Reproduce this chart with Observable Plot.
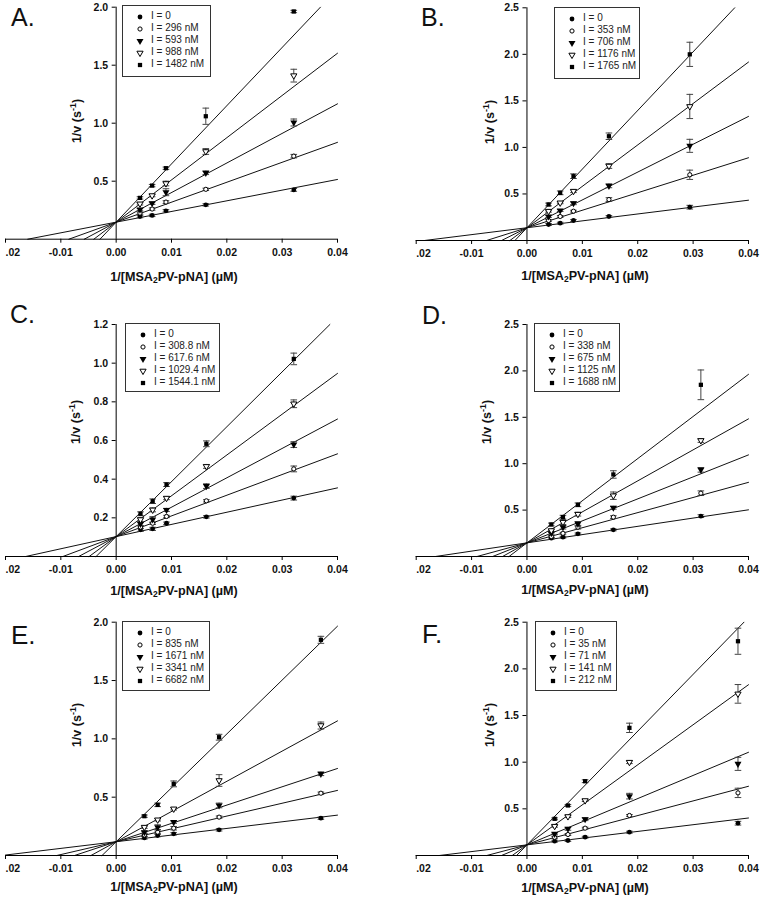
<!DOCTYPE html>
<html><head><meta charset="utf-8">
<script src="https://cdn.jsdelivr.net/npm/d3@7"></script>
<script src="https://cdn.jsdelivr.net/npm/@observablehq/plot@0.6"></script>
<style>
body{margin:0;background:#fff;}
#root{position:relative;width:761px;height:900px;overflow:hidden;background:#fff;font-family:"Liberation Sans",Arial,sans-serif;color:#111;}
.pw{position:absolute;overflow:hidden;}
.letter{position:absolute;line-height:1;font-size:25px;}
.xt{position:absolute;font-size:12.6px;font-weight:bold;transform:translate(-50%,-50%);white-space:nowrap;line-height:1;}
.xt sub{font-size:8.5px;vertical-align:-2px;line-height:0;}
.yt{position:absolute;font-size:12.5px;font-weight:bold;transform:translate(-50%,-50%) rotate(-90deg);white-space:nowrap;line-height:1;}
.yt sup{font-size:9px;vertical-align:5px;line-height:0;}
.legend{position:absolute;border:1px solid #333;background:#fff;box-sizing:border-box;}
.legend .row{position:absolute;left:0;font-size:10px;line-height:1;white-space:nowrap;color:#222;}
.legend svg{position:absolute;overflow:visible;}
</style>
</head><body>
<div id="root"></div>
<script>
// ---------- data ----------
const panelLetters = ["A.", "B.", "C.", "D.", "E.", "F."];
const xTicks = [-0.02, -0.01, 0, 0.01, 0.02, 0.03, 0.04];

// Panel A
const labelsA = ["I = 0", "I = 296 nM", "I = 593 nM", "I = 988 nM", "I = 1482 nM"];
const xA = [0.0043, 0.0065, 0.0090, 0.0162, 0.0321];
const yA = [
  [0.195, 0.205, 0.245, 0.296, 0.425],
  [0.225, 0.260, 0.320, 0.430, 0.716],
  [0.255, 0.310, 0.405, 0.572, 1.006],
  [0.305, 0.376, 0.480, 0.756, 1.410],
  [0.356, 0.462, 0.612, 1.060, 1.963]
];
const eA = [
  [0.01, 0.01, 0.01, 0.01, 0.012],
  [0.01, 0.01, 0.012, 0.01, 0.015],
  [0.01, 0.01, 0.03, 0.015, 0.03],
  [0.01, 0.01, 0.02, 0.025, 0.055],
  [0.01, 0.01, 0.01, 0.07, 0.01]
];
const interceptA = 0.147;
const slopesA = [9.2, 17.2, 25.5, 36.4, 50.2];
const yTicksA = [0.5, 1.0, 1.5, 2.0];

// Panel B
const labelsB = ["I = 0", "I = 353 nM", "I = 706 nM", "I = 1176 nM", "I = 1765 nM"];
const xB = [0.0039, 0.0060, 0.0084, 0.0148, 0.0294];
const yB = [
  [0.172, 0.186, 0.215, 0.258, 0.358],
  [0.215, 0.258, 0.315, 0.440, 0.706],
  [0.258, 0.322, 0.400, 0.587, 1.017],
  [0.315, 0.405, 0.530, 0.800, 1.440],
  [0.387, 0.512, 0.691, 1.120, 2.000]
];
const eB = [
  [0.01, 0.01, 0.01, 0.01, 0.02],
  [0.01, 0.01, 0.01, 0.02, 0.05],
  [0.01, 0.01, 0.015, 0.02, 0.07],
  [0.01, 0.01, 0.015, 0.025, 0.13],
  [0.015, 0.02, 0.025, 0.035, 0.13]
];
const interceptB = 0.137;
const slopesB = [7.4, 18.8, 29.9, 44.5, 63.0];
const yTicksB = [0.5, 1.0, 1.5, 2.0, 2.5];

// Panel C
const labelsC = ["I = 0", "I = 308.8 nM", "I = 617.6 nM", "I = 1029.4 nM", "I = 1544.1 nM"];
const xC = [0.0044, 0.0066, 0.0091, 0.0163, 0.0321];
const yC = [
  [0.138, 0.143, 0.172, 0.205, 0.302],
  [0.152, 0.172, 0.207, 0.288, 0.453],
  [0.168, 0.191, 0.241, 0.364, 0.579],
  [0.191, 0.241, 0.302, 0.466, 0.790],
  [0.221, 0.286, 0.372, 0.583, 1.022]
];
const eC = [
  [0.008, 0.008, 0.006, 0.006, 0.01],
  [0.008, 0.006, 0.006, 0.006, 0.015],
  [0.01, 0.015, 0.008, 0.012, 0.015],
  [0.01, 0.01, 0.008, 0.01, 0.02],
  [0.01, 0.012, 0.01, 0.015, 0.03]
];
const interceptC = 0.103;
const slopesC = [6.3, 10.7, 15.2, 21.1, 28.4];
const yTicksC = [0.2, 0.4, 0.6, 0.8, 1.0, 1.2];

// Panel D
const labelsD = ["I = 0", "I = 338 nM", "I = 675 nM", "I = 1125 nM", "I = 1688 nM"];
const xD = [0.0044, 0.0065, 0.0092, 0.0156, 0.0314];
const yD = [
  [0.198, 0.208, 0.244, 0.287, 0.435],
  [0.215, 0.250, 0.316, 0.424, 0.682],
  [0.250, 0.316, 0.352, 0.525, 0.934],
  [0.280, 0.370, 0.456, 0.655, 1.250],
  [0.345, 0.424, 0.557, 0.884, 1.850]
];
const eD = [
  [0.01, 0.01, 0.01, 0.01, 0.015],
  [0.01, 0.01, 0.02, 0.015, 0.025],
  [0.01, 0.02, 0.025, 0.015, 0.025],
  [0.01, 0.025, 0.02, 0.04, 0.02],
  [0.015, 0.02, 0.02, 0.04, 0.16]
];
const interceptD = 0.147;
const slopesD = [8.9, 16.3, 23.7, 33.4, 45.4];
const yTicksD = [0.5, 1.0, 1.5, 2.0, 2.5];

// Panel E
const labelsE = ["I = 0", "I = 835 nM", "I = 1671 nM", "I = 3341 nM", "I = 6682 nM"];
const xE = [0.0051, 0.0075, 0.0104, 0.0186, 0.0370];
const yE = [
  [0.151, 0.171, 0.186, 0.220, 0.320],
  [0.175, 0.200, 0.234, 0.329, 0.534],
  [0.200, 0.243, 0.286, 0.429, 0.700],
  [0.243, 0.306, 0.400, 0.643, 1.114],
  [0.337, 0.434, 0.614, 1.014, 1.849]
];
const eE = [
  [0.01, 0.01, 0.01, 0.01, 0.01],
  [0.01, 0.01, 0.015, 0.01, 0.01],
  [0.01, 0.02, 0.01, 0.02, 0.015],
  [0.01, 0.01, 0.01, 0.05, 0.03],
  [0.01, 0.015, 0.025, 0.025, 0.03]
];
const interceptE = 0.118;
const slopesE = [5.7, 11.0, 15.7, 25.9, 46.2];
const yTicksE = [0.5, 1.0, 1.5, 2.0];

// Panel F
const labelsF = ["I = 0", "I = 35 nM", "I = 71 nM", "I = 141 nM", "I = 212 nM"];
const xF = [0.0050, 0.0074, 0.0105, 0.0185, 0.0381];
const yF = [
  [0.154, 0.161, 0.196, 0.250, 0.346],
  [0.195, 0.225, 0.293, 0.429, 0.671],
  [0.232, 0.286, 0.389, 0.636, 0.982],
  [0.314, 0.418, 0.589, 1.000, 1.732],
  [0.393, 0.536, 0.796, 1.368, 2.296]
];
const eF = [
  [0.01, 0.01, 0.01, 0.01, 0.02],
  [0.01, 0.01, 0.01, 0.01, 0.05],
  [0.01, 0.015, 0.015, 0.03, 0.07],
  [0.01, 0.01, 0.01, 0.015, 0.1],
  [0.01, 0.01, 0.015, 0.05, 0.14]
];
const interceptF = 0.114;
const slopesF = [7.2, 15.7, 24.8, 42.9, 60.9];
const yTicksF = [0.5, 1.0, 1.5, 2.0, 2.5];

// ---------- styles ----------
const triDown = {
  draw(ctx, size) {
    const h = Math.sqrt(size / (3 * Math.sqrt(3)));
    ctx.moveTo(0, 2 * h);
    ctx.lineTo(-Math.sqrt(3) * h, -h);
    ctx.lineTo(Math.sqrt(3) * h, -h);
    ctx.closePath();
  }
};
const capSymbol = {
  draw(ctx, size) {
    const w = Math.sqrt(size / Math.PI);
    ctx.moveTo(-w, 0);
    ctx.lineTo(w, 0);
  }
};
const seriesStyle = [
  {symbol: d3.symbolCircle, fill: "#000", stroke: "none", r: 2.4},
  {symbol: d3.symbolCircle, fill: "#fff", stroke: "#000", r: 2.1},
  {symbol: triDown, fill: "#000", stroke: "none", r: 2.6},
  {symbol: triDown, fill: "#fff", stroke: "#000", r: 2.3},
  {symbol: d3.symbolSquare, fill: "#000", stroke: "none", r: 2.4}
];
const FONT = '"Liberation Sans", Arial, sans-serif';
// the leftmost tick label appears cropped to ".02" in the reference
const tickText = d => d.toFixed(2);
const croppedText = d => d.toFixed(2).replace("-0", "");

const panels = [
  {xs: xA, ys: yA, es: eA, labels: labelsA, b: interceptA, slopes: slopesA, yTicks: yTicksA, ymax: 2.0,
   box: {left: 0, top: 0, width: 380, height: 300, mt: 6.7, mb: 61.3, ml: 5, mr: 43},
   letter: {left: 11, top: 5, size: 25}, legend: {left: 122, top: 5, width: 89, height: 72},
   xt: {x: 174, y: 277}, yt: {x: 77, y: 121}},
  {xs: xB, ys: yB, es: eB, labels: labelsB, b: interceptB, slopes: slopesB, yTicks: yTicksB, ymax: 2.5,
   box: {left: 414, top: 0, width: 347, height: 300, mt: 7.3, mb: 60, ml: 1.7, mr: 13},
   letter: {left: 421, top: 5, size: 25}, legend: {left: 554, top: 7, width: 86, height: 72},
   xt: {x: 585, y: 276}, yt: {x: 490, y: 122}},
  {xs: xC, ys: yC, es: eC, labels: labelsC, b: interceptC, slopes: slopesC, yTicks: yTicksC, ymax: 1.2,
   box: {left: 0, top: 300, width: 380, height: 300, mt: 24, mb: 44, ml: 5, mr: 43},
   letter: {left: 10, top: 302, size: 25}, legend: {left: 125, top: 323, width: 95, height: 69},
   xt: {x: 174, y: 591}, yt: {x: 76, y: 422}},
  {xs: xD, ys: yD, es: eD, labels: labelsD, b: interceptD, slopes: slopesD, yTicks: yTicksD, ymax: 2.5,
   box: {left: 414, top: 300, width: 347, height: 300, mt: 24, mb: 44, ml: 1.7, mr: 13},
   letter: {left: 422, top: 303, size: 25}, legend: {left: 534, top: 323, width: 86, height: 69},
   xt: {x: 585, y: 590}, yt: {x: 487, y: 422}},
  {xs: xE, ys: yE, es: eE, labels: labelsE, b: interceptE, slopes: slopesE, yTicks: yTicksE, ymax: 2.0,
   box: {left: 0, top: 600, width: 380, height: 300, mt: 21.7, mb: 45, ml: 5, mr: 43},
   letter: {left: 11, top: 622, size: 26}, legend: {left: 122, top: 621, width: 88, height: 70},
   xt: {x: 174, y: 887}, yt: {x: 77, y: 725}},
  {xs: xF, ys: yF, es: eF, labels: labelsF, b: interceptF, slopes: slopesF, yTicks: yTicksF, ymax: 2.5,
   box: {left: 414, top: 600, width: 347, height: 300, mt: 21.7, mb: 45, ml: 1.7, mr: 13},
   letter: {left: 422, top: 621, size: 26}, legend: {left: 535, top: 621, width: 82, height: 70},
   xt: {x: 585, y: 888}, yt: {x: 490, y: 725}}
];

const root = document.getElementById("root");

panels.forEach((p, pi) => {
  const {box} = p;
  const pts = [];
  p.ys.forEach((row, s) => row.forEach((y, i) => pts.push({s, x: p.xs[i], y, e: p.es[s][i]})));
  const lines = [];
  p.slopes.forEach((m, s) => {
    const x0 = Math.max(-0.02, -p.b / m);
    const x1 = Math.min(0.04, (p.ymax - p.b) / m);
    lines.push({s, x: x0, y: p.b + m * x0}, {s, x: x1, y: p.b + m * x1});
  });
  const innerW = box.width - box.ml - box.mr;
  const zeroOffset = (0 - xTicks[0]) / (xTicks[xTicks.length - 1] - xTicks[0]) * innerW;

  const marks = [
    Plot.line(lines, {x: "x", y: "y", z: "s", stroke: "#111", strokeWidth: 1}),
    Plot.ruleY([0], {stroke: "#000", strokeWidth: 1}),
    Plot.ruleX([0], {stroke: "#000", strokeWidth: 1}),
    Plot.axisX({ticks: xTicks, tickSize: 4, tickPadding: 5,
      tickFormat: d => (d === xTicks[0] ? "" : tickText(d)),
      fontWeight: "bold", fontSize: 10.5, label: null, stroke: "#000", fill: "#111"}),
    Plot.text([xTicks[0]], {x: d => d, frameAnchor: "bottom", text: croppedText, textAnchor: "start",
      lineAnchor: "top", dy: 9, fontWeight: "bold", fontSize: 10.5, fill: "#111"}),
    Plot.axisY({ticks: p.yTicks, tickSize: 4, tickPadding: 4, tickFormat: d => d.toFixed(1),
      fontWeight: "bold", fontSize: 10.5, label: null, dx: zeroOffset, stroke: "#000", fill: "#111"}),
    Plot.ruleX(pts, {x: "x", y1: d => d.y - d.e, y2: d => d.y + d.e, stroke: "#444", strokeWidth: 1}),
    Plot.dot(pts, {x: "x", y: d => d.y + d.e, symbol: capSymbol, r: 3.3, fill: "none", stroke: "#444", strokeWidth: 1}),
    Plot.dot(pts, {x: "x", y: d => d.y - d.e, symbol: capSymbol, r: 3.3, fill: "none", stroke: "#444", strokeWidth: 1})
  ];
  seriesStyle.forEach((st, s) => {
    marks.push(Plot.dot(pts.filter(d => d.s === s), {x: "x", y: "y", symbol: st.symbol, r: st.r,
      fill: st.fill, stroke: st.stroke, strokeWidth: 1}));
  });

  const chart = Plot.plot({
    width: box.width, height: box.height,
    marginTop: box.mt, marginBottom: box.mb, marginLeft: box.ml, marginRight: box.mr,
    x: {domain: [xTicks[0], xTicks[xTicks.length - 1]]},
    y: {domain: [0, p.ymax]},
    style: {fontFamily: FONT, background: "#fff", overflow: "hidden"},
    marks
  });
  const wrap = document.createElement("div");
  wrap.className = "pw";
  Object.assign(wrap.style, {left: box.left + "px", top: box.top + "px", width: box.width + "px", height: box.height + "px"});
  wrap.appendChild(chart);
  root.appendChild(wrap);

  // panel letter
  const L = document.createElement("div");
  L.className = "letter";
  L.textContent = panelLetters[pi];
  Object.assign(L.style, {left: p.letter.left + "px", top: p.letter.top + "px", fontSize: p.letter.size + "px"});
  root.appendChild(L);

  // axis titles
  const xt = document.createElement("div");
  xt.className = "xt";
  xt.innerHTML = "1/[MSA<sub>2</sub>PV-pNA] (&micro;M)";
  Object.assign(xt.style, {left: p.xt.x + "px", top: p.xt.y + "px"});
  root.appendChild(xt);
  const yt = document.createElement("div");
  yt.className = "yt";
  yt.innerHTML = "1/v (s<sup>-1</sup>)";
  Object.assign(yt.style, {left: p.yt.x + "px", top: p.yt.y + "px"});
  root.appendChild(yt);

  // legend
  const lg = document.createElement("div");
  lg.className = "legend";
  Object.assign(lg.style, {left: p.legend.left + "px", top: p.legend.top + "px",
    width: p.legend.width + "px", height: p.legend.height + "px"});
  p.labels.forEach((lab, s) => {
    const st = seriesStyle[s];
    const cy = 10.5 + 12 * s;
    const sv = d3.create("svg").attr("width", 10).attr("height", 10)
      .style("left", (17 - 5) + "px").style("top", (cy - 5) + "px");
    sv.append("path")
      .attr("transform", "translate(5,5)")
      .attr("d", d3.symbol(st.symbol, Math.PI * st.r * st.r)())
      .attr("fill", st.fill).attr("stroke", st.stroke).attr("stroke-width", 1);
    lg.appendChild(sv.node());
    const row = document.createElement("div");
    row.className = "row";
    row.textContent = lab;
    Object.assign(row.style, {left: "28px", top: (cy - 5.5) + "px"});
    lg.appendChild(row);
  });
  root.appendChild(lg);
});
</script>
</body></html>
